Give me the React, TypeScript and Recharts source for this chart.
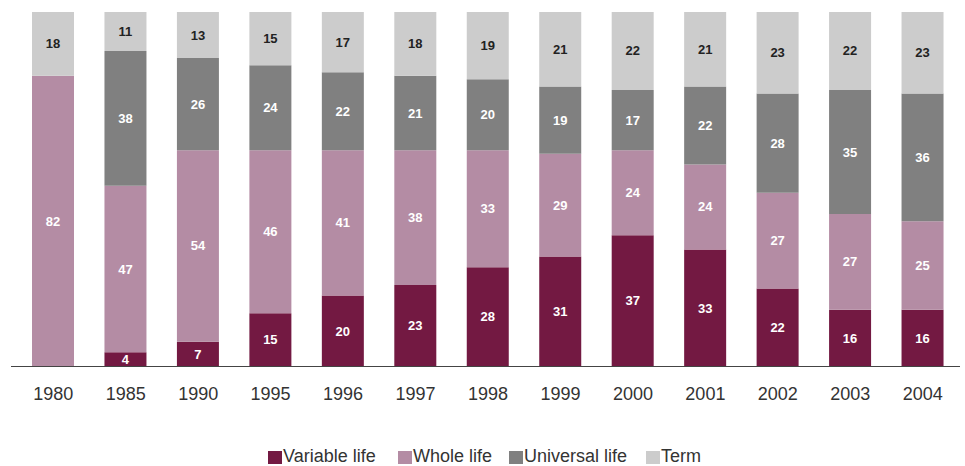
import React from "react";
import { BarChart, Bar, XAxis, YAxis, LabelList } from "recharts";

const years = ["1980", "1985", "1990", "1995", "1996", "1997", "1998", "1999", "2000", "2001", "2002", "2003", "2004"];
const variableLife = [0, 4, 7, 15, 20, 23, 28, 31, 37, 33, 22, 16, 16];
const wholeLife = [82, 47, 54, 46, 41, 38, 33, 29, 24, 24, 27, 27, 25];
const universalLife = [0, 38, 26, 24, 22, 21, 20, 19, 17, 22, 28, 35, 36];
const term = [18, 11, 13, 15, 17, 18, 19, 21, 22, 21, 23, 22, 23];

const series = [
  { key: "variable", name: "Variable life", color: "#731942", text: "#ffffff" },
  { key: "whole", name: "Whole life", color: "#b48ca4", text: "#ffffff" },
  { key: "universal", name: "Universal life", color: "#808080", text: "#ffffff" },
  { key: "term", name: "Term", color: "#cccccc", text: "#222222" },
];

const legendLeft = [268, 398, 509, 646];

const data = years.map((year, i) => ({
  year,
  variable: variableLife[i],
  whole: wholeLife[i],
  universal: universalLife[i],
  term: term[i],
}));

const FONT = "'Liberation Sans', Arial, sans-serif";

function makeLabel(fill: string) {
  return (props: any) => {
    const { x, y, width, height, value } = props;
    if (!value) return null;
    return (
      <text
        x={x + width / 2}
        y={y + height / 2}
        textAnchor="middle"
        dominantBaseline="central"
        fontFamily={FONT}
        fontSize={13}
        fontWeight="bold"
        fill={fill}
      >
        {value}
      </text>
    );
  };
}

export default function App() {
  return (
    <div style={{ position: "absolute", left: 0, top: 0, width: 965, height: 466, background: "#fff" }}>
      <BarChart
        width={965}
        height={466}
        data={data}
        margin={{ top: 12, right: 6, left: 17, bottom: 0 }}
        barCategoryGap={0}
      >
        <YAxis hide domain={[0, 100]} />
        <XAxis
          dataKey="year"
          height={99.5}
          axisLine={false}
          tickLine={false}
          tick={{ fontFamily: FONT, fontSize: 18, fill: "#333" }}
          dy={13}
          interval={0}
        />
        {series.map((s) => (
          <Bar key={s.key} dataKey={s.key} name={s.name} stackId="a" fill={s.color} barSize={42} isAnimationActive={false}>
            <LabelList dataKey={s.key} content={makeLabel(s.text)} />
          </Bar>
        ))}
      </BarChart>
      {/* baseline axis, wider than the plot area */}
      <div style={{ position: "absolute", left: 11, top: 366, width: 949, height: 1, background: "#444" }} />
      {series.map((s, i) => (
        <div
          key={s.key}
          style={{
            position: "absolute",
            left: legendLeft[i],
            top: 446,
            height: 20,
            display: "flex",
            alignItems: "center",
            fontFamily: FONT,
            fontSize: 18,
            color: "#333",
            whiteSpace: "nowrap",
          }}
        >
          <span style={{ display: "inline-block", width: 14, height: 13, background: s.color, marginRight: 1, marginTop: 3 }} />
          <span>{s.name}</span>
        </div>
      ))}
    </div>
  );
}
